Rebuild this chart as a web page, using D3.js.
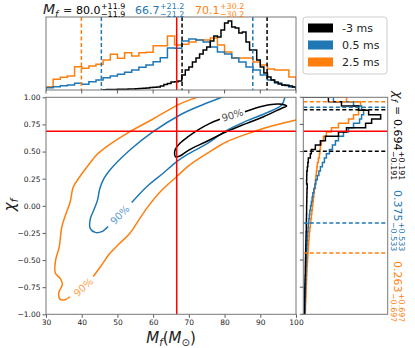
<!DOCTYPE html>
<html>
<head>
<meta charset="utf-8">
<script src="https://cdn.jsdelivr.net/npm/d3@7"></script>
<style>
  body { margin: 0; background: #fff; }
  text { font-family: "DejaVu Sans", sans-serif; }
</style>
</head>
<body>
<div id="chart"></div>
<script>
// Series names and colours
const seriesNames = ['-3 ms', '0.5 ms', '2.5 ms'];
const seriesColors = ['#000000', '#1f77b4', '#ff7f0e'];

// Final mass summaries (median, +err, -err)
const mfMedian = ['80.0', '66.7', '70.1'];
const mfErr = ['11.9', '21.2', '30.2'];
const mfLow = [68.1, 45.5, 39.9];
const mfHigh = [91.9, 87.9, 100.3];

// Final spin summaries
const chiMedian = ['0.694', '0.375', '0.263'];
const chiErr = ['0.191', '0.533', '0.697'];
const chiLow = [0.503, -0.158, -0.434];
const chiHigh = [0.885, 0.908, 0.960];

// Injected values (red lines)
const trueMf = 66.6;
const trueChi = 0.686;

// Mf histograms (relative density), black uses 1 Msun bins from 46, others 2 Msun bins from 30
const mfHistBlack = [0.3, 0.4, 0.5, 0.5, 0.7, 0.7, 0.8, 1, 1, 1.2, 1.5, 1.7, 2, 2.5, 2.7, 3, 4, 5.5, 6.5, 8,
  8.3, 9, 15, 20, 23, 28, 32, 36, 40, 43, 49, 54, 53, 60, 67, 69, 63, 62, 57, 58,
  48, 40, 40, 30, 23, 17, 13, 10, 8, 6, 5, 4.5, 4, 3];
const mfHistBlue = [2.3, 3.3, 4.3, 5, 6.7, 5.7, 8.3, 10, 12.3, 14, 15.7, 17.7, 20, 22.7, 25, 28.3, 32.3, 42,
  41.7, 49, 51, 50, 48, 43, 38, 36, 32, 28, 23, 20, 15, 10, 7, 5, 3];
const mfHistOrange = [3.3, 10.7, 12.7, 14, 23.3, 21.7, 24, 25.7, 30, 35.7, 31.7, 37.3, 34, 37.3, 37.7, 44.3, 44.3, 54,
  45, 45.7, 48, 50, 50, 52, 45, 38, 32, 32, 32, 28, 25, 21, 20, 20, 13];
const mfBins = [{ start: 46, width: 1 }, { start: 30, width: 2 }, { start: 30, width: 2 }];

// chi histograms, 0.04 bins from -1
const chiHistBlack = [1.2, 1.2, 1.3, 1.3, 1.5, 1.5, 1.6, 1.7, 1.8, 2.0,
  2.0, 2.1, 2.2, 2.3, 2.4, 2.5, 2.6, 2.7, 2.8, 3.0,
  3.0, 3.1, 3.2, 3.3, 3.3, 3.4, 3.5, 3.6, 3.7, 3.9,
  3.3, 3.4, 3.5, 4.0, 4.5, 5, 7, 8, 12, 17,
  22, 35, 43, 62, 68, 77, 65, 55, 38, 25];
const chiHistBlue = [1.7, 1.8, 1.9, 2.0, 2.0, 2.1, 2.2, 2.4, 2.5, 2.7,
  2.8, 3.0, 3.1, 3.2, 3.4, 3.6, 3.8, 4.0, 4.3, 4.7,
  5, 5.5, 6, 6.5, 7.2, 8, 8.8, 9.5, 10.5, 11.5,
  12.5, 14, 15.5, 17, 19, 21, 23, 26, 29, 32,
  35, 40, 45, 50, 56, 58, 60, 58, 50, 30];
const chiHistOrange = [2.0, 2.2, 2.3, 2.5, 2.7, 2.8, 3.0, 3.2, 3.4, 3.6,
  3.8, 4.0, 4.2, 4.5, 4.8, 5.0, 5.3, 5.7, 6.0, 6.5,
  7, 7.5, 8, 8.5, 9, 9.5, 10, 10.5, 11, 12,
  12, 12.5, 13, 13.5, 14, 15, 16, 16.5, 17, 18,
  20, 23, 28, 35, 45, 50, 55, 55, 57, 43];

// 90% contours as [Mf, chi] segments (broken where the label sits)
const contourBlack = [[
  [85.7, 0.867], [90.9, 0.92], [95.1, 0.938], [97.4, 0.92], [96.0, 0.899], [90.9, 0.821], [86.2, 0.76],
  [80.5, 0.683], [74.8, 0.59], [70.0, 0.514], [67.5, 0.459], [66.3, 0.45], [66.0, 0.48], [66.2, 0.52],
  [67.5, 0.576], [69.8, 0.637], [72.6, 0.70], [75.9, 0.76], [78.7, 0.797]
]];
const contourBlue = [[
  [47.4, -0.19], [45.6, -0.238], [43.8, -0.245], [42.4, -0.21], [42.4, -0.12], [43.5, -0.03], [44.4, 0.05],
  [45.1, 0.161], [46.2, 0.25], [47.9, 0.33], [53.5, 0.514], [60, 0.683], [67.5, 0.837], [73, 0.92],
  [79.2, 1.0], [83, 1.05]
], [
  [54, 0.03], [58.2, 0.176], [62.8, 0.30], [66.6, 0.407], [70, 0.48], [75, 0.57], [80.1, 0.686], [86, 0.78],
  [92, 0.86], [96, 0.93], [96.9, 1.0], [97.2, 1.05]
]];
const contourOrange = [[
  [36.7, -0.838], [35.3, -0.865], [33.9, -0.86], [33.6, -0.80], [34.6, -0.72], [34.0, -0.67], [32.6, -0.62],
  [32.7, -0.50], [33.7, -0.38], [34.4, -0.20], [35.3, -0.10], [36.8, 0.04], [37.6, 0.17], [39.5, 0.27],
  [42.0, 0.38], [44.2, 0.47], [47, 0.545], [53.5, 0.683], [60, 0.80], [67.5, 0.94], [72.2, 1.0], [76, 1.05]
], [
  [43.2, -0.653], [45.5, -0.55], [47.9, -0.438], [50.5, -0.35], [53.5, -0.253], [56, -0.13], [58.5, -0.01],
  [62, 0.13], [66.6, 0.27], [70, 0.37], [75, 0.48], [80.6, 0.59], [88.1, 0.683], [93.7, 0.74], [100, 0.79],
  [104, 0.82]
]];
// label anchor [Mf, chi, rotation]
const contourLabels = [[82.2, 0.836, -18], [50.7, -0.085, -45], [40.5, -0.75, -42]];
const labelColors = ['#555555', '#5b9bd0', '#ffa24a'];

const mfTicks = [30, 40, 50, 60, 70, 80, 90, 100];
const chiTicks = [-1, -0.75, -0.5, -0.25, 0, 0.25, 0.5, 0.75, 1];

// Layout
const W = 415, H = 348;
const main = { left: 46, right: 296, top: 97.3, bottom: 314.3 };
const topH = { top: 17, bottom: 90 };
const side = { left: 303.3, right: 387.7 };
const spine = '#777';

const svg = d3.select('#chart').append('svg')
  .attr('width', W).attr('height', H);

const x = d3.scaleLinear().domain([30, 100]).range([main.left, main.right]);
const y = d3.scaleLinear().domain([-1, 1]).range([main.bottom, main.top]);
const yTop = d3.scaleLinear().domain([0, 73]).range([topH.bottom, topH.top]);
const xSide = d3.scaleLinear().domain([0, 84]).range([side.left, side.right]);

const defs = svg.append('defs');
defs.append('clipPath').attr('id', 'clipMain').append('rect')
  .attr('x', main.left).attr('y', main.top)
  .attr('width', main.right - main.left).attr('height', main.bottom - main.top);
defs.append('clipPath').attr('id', 'clipTop').append('rect')
  .attr('x', main.left).attr('y', topH.top)
  .attr('width', main.right - main.left).attr('height', topH.bottom - topH.top);
defs.append('clipPath').attr('id', 'clipSide').append('rect')
  .attr('x', side.left).attr('y', main.top)
  .attr('width', side.right - side.left).attr('height', main.bottom - main.top);

// ---------- top histogram ----------
const gTop = svg.append('g').attr('clip-path', 'url(#clipTop)');
const mfHists = [mfHistBlack, mfHistBlue, mfHistOrange];

function stepPoints(start, width, values) {
  const pts = [[start, 0]];
  values.forEach((v, i) => {
    pts.push([start + i * width, v]);
    pts.push([start + (i + 1) * width, v]);
  });
  pts.push([start + values.length * width, 0]);
  return pts;
}

[2, 1, 0].forEach(i => {
  const pts = stepPoints(mfBins[i].start, mfBins[i].width, mfHists[i]);
  gTop.append('path')
    .attr('d', d3.line().x(d => x(d[0])).y(d => yTop(d[1]))(pts))
    .attr('fill', 'none').attr('stroke', seriesColors[i]).attr('stroke-width', 1.5);
});
[0, 1, 2].forEach(i => {
  [mfLow[i], mfHigh[i]].forEach(v => {
    gTop.append('line')
      .attr('x1', x(v)).attr('x2', x(v)).attr('y1', topH.top).attr('y2', topH.bottom)
      .attr('stroke', seriesColors[i]).attr('stroke-width', 1.5).attr('stroke-dasharray', '4,2.5');
  });
});
gTop.append('line')
  .attr('x1', x(trueMf)).attr('x2', x(trueMf)).attr('y1', topH.top).attr('y2', topH.bottom)
  .attr('stroke', 'red').attr('stroke-width', 1.5);

svg.append('rect')
  .attr('x', main.left).attr('y', topH.top)
  .attr('width', main.right - main.left).attr('height', topH.bottom - topH.top)
  .attr('fill', 'none').attr('stroke', spine).attr('stroke-width', 1);
svg.append('g').selectAll('line').data(mfTicks).join('line')
  .attr('x1', d => x(d)).attr('x2', d => x(d))
  .attr('y1', topH.bottom).attr('y2', topH.bottom + 3.5)
  .attr('stroke', '#333').attr('stroke-width', 0.8);

// ---------- side histogram ----------
const gSide = svg.append('g').attr('clip-path', 'url(#clipSide)');
const chiHists = [chiHistBlack, chiHistBlue, chiHistOrange];
[2, 1, 0].forEach(i => {
  const pts = stepPoints(-1, 0.04, chiHists[i]);
  gSide.append('path')
    .attr('d', d3.line().x(d => xSide(d[1])).y(d => y(d[0]))(pts))
    .attr('fill', 'none').attr('stroke', seriesColors[i]).attr('stroke-width', 1.5);
});
[0, 1, 2].forEach(i => {
  [chiLow[i], chiHigh[i]].forEach(v => {
    gSide.append('line')
      .attr('x1', side.left).attr('x2', side.right).attr('y1', y(v)).attr('y2', y(v))
      .attr('stroke', seriesColors[i]).attr('stroke-width', 1.5).attr('stroke-dasharray', '4,2.5');
  });
});
gSide.append('line')
  .attr('x1', side.left).attr('x2', side.right).attr('y1', y(trueChi)).attr('y2', y(trueChi))
  .attr('stroke', 'red').attr('stroke-width', 1.5);
svg.append('rect')
  .attr('x', side.left).attr('y', main.top)
  .attr('width', side.right - side.left).attr('height', main.bottom - main.top)
  .attr('fill', 'none').attr('stroke', spine).attr('stroke-width', 1);
svg.append('g').selectAll('line').data(chiTicks).join('line')
  .attr('x1', side.left - 3.5).attr('x2', side.left)
  .attr('y1', d => y(d)).attr('y2', d => y(d))
  .attr('stroke', '#333').attr('stroke-width', 0.8);

// ---------- main contour panel ----------
const gMain = svg.append('g').attr('clip-path', 'url(#clipMain)');
const contourLine = d3.line().x(d => x(d[0])).y(d => y(d[1])).curve(d3.curveCatmullRom);
const contours = [contourBlack, contourBlue, contourOrange];
[2, 1, 0].forEach(i => {
  contours[i].forEach(seg => {
    gMain.append('path').attr('d', contourLine(seg))
      .attr('fill', 'none').attr('stroke', seriesColors[i]).attr('stroke-width', 1.5);
  });
});
contourLabels.forEach((d, i) => {
  gMain.append('text')
    .attr('transform', `translate(${x(d[0])},${y(d[1])}) rotate(${d[2]})`)
    .attr('text-anchor', 'middle').attr('dominant-baseline', 'central')
    .attr('font-size', 10).attr('fill', labelColors[i]).text('90%');
});
gMain.append('line')
  .attr('x1', x(trueMf)).attr('x2', x(trueMf)).attr('y1', main.top).attr('y2', main.bottom)
  .attr('stroke', 'red').attr('stroke-width', 1.5);
gMain.append('line')
  .attr('x1', main.left).attr('x2', main.right).attr('y1', y(trueChi)).attr('y2', y(trueChi))
  .attr('stroke', 'red').attr('stroke-width', 1.5);

const xAxis = svg.append('g').attr('transform', `translate(0,${main.bottom})`)
  .call(d3.axisBottom(x).tickValues(mfTicks).tickSize(3.5).tickPadding(2).tickFormat(d3.format('d')));
const yAxis = svg.append('g').attr('transform', `translate(${main.left},0)`)
  .call(d3.axisLeft(y).tickValues(chiTicks).tickSize(3.5).tickPadding(2)
    .tickFormat(d => d3.format('.2f')(d).replace('-', '\u2212')));
[xAxis, yAxis].forEach(a => {
  a.select('.domain').remove();
  a.selectAll('text').attr('font-size', 7.5).attr('fill', '#222')
    .attr('font-family', '"DejaVu Sans", sans-serif');
  a.selectAll('line').attr('stroke', '#333').attr('stroke-width', 0.8);
});
svg.append('rect')
  .attr('x', main.left).attr('y', main.top)
  .attr('width', main.right - main.left).attr('height', main.bottom - main.top)
  .attr('fill', 'none').attr('stroke', spine).attr('stroke-width', 1);

// axis labels
const mathFont = '"Liberation Serif", serif';
const xl = svg.append('text').attr('x', 171).attr('y', 343).attr('text-anchor', 'middle')
  .attr('font-family', mathFont).attr('font-size', 15).attr('fill', '#222');
xl.append('tspan').attr('font-style', 'italic').text('M');
xl.append('tspan').attr('font-style', 'italic').attr('font-size', 10).attr('dy', 3).text('f');
xl.append('tspan').attr('dy', -3).text('(');
xl.append('tspan').attr('font-style', 'italic').text('M');
xl.append('tspan').attr('font-size', 10).attr('dy', 3).text('\u2299');
xl.append('tspan').attr('dy', -3).text(')');

const yl = svg.append('text').attr('transform', 'translate(15,205) rotate(-90)')
  .attr('text-anchor', 'middle').attr('font-family', mathFont).attr('font-size', 15).attr('fill', '#222');
yl.append('tspan').attr('font-style', 'italic').text('\u03c7');
yl.append('tspan').attr('font-style', 'italic').attr('font-size', 10).attr('dy', 3).text('f');

// value with stacked +/- errors
function valueWithErr(g, x0, y0, val, err, color, size) {
  const t = g.append('text').attr('x', x0).attr('y', y0).attr('font-size', size)
    .attr('fill', color).text(val);
  const w = t.node().getComputedTextLength();
  g.append('text').attr('x', x0 + w + 0.5).attr('y', y0 - size * 0.42)
    .attr('font-size', size * 0.72).attr('fill', color).text('+' + err);
  g.append('text').attr('x', x0 + w + 0.5).attr('y', y0 + size * 0.3)
    .attr('font-size', size * 0.72).attr('fill', color).text('\u2212' + err);
}

// title over top histogram
const gTitle = svg.append('g');
const tm = gTitle.append('text').attr('x', 43).attr('y', 14).attr('font-family', mathFont)
  .attr('font-size', 14).attr('fill', '#222');
tm.append('tspan').attr('font-style', 'italic').text('M');
tm.append('tspan').attr('font-style', 'italic').attr('font-size', 9.5).attr('dy', 3).text('f');
gTitle.append('text').attr('x', 63).attr('y', 14).attr('font-size', 11).attr('fill', '#222').text('=');
const titleX = [76, 135, 195];
[0, 1, 2].forEach(i => valueWithErr(gTitle, titleX[i], 14, mfMedian[i], mfErr[i], seriesColors[i], 11));

// rotated summary on the right
const sideY = [91, 190, 261];
[0, 1, 2].forEach(i => {
  const g = svg.append('g').attr('transform', `translate(394,${sideY[i]}) rotate(90)`);
  let start = 0;
  if (i === 0) {
    const c = g.append('text').attr('x', 0).attr('y', 0).attr('font-family', mathFont)
      .attr('font-size', 13).attr('fill', '#222');
    c.append('tspan').attr('font-style', 'italic').text('\u03c7');
    c.append('tspan').attr('font-style', 'italic').attr('font-size', 9).attr('dy', 3).text('f');
    g.append('text').attr('x', 15).attr('y', 0).attr('font-size', 11).attr('fill', '#222').text('=');
    start = 28;
  }
  valueWithErr(g, start, 0, chiMedian[i], chiErr[i], seriesColors[i], 11);
});

// legend
const lg = svg.append('g');
lg.append('rect').attr('x', 303).attr('y', 17).attr('width', 84).attr('height', 57).attr('rx', 3)
  .attr('fill', '#fff').attr('stroke', '#ccc').attr('stroke-width', 1);
const legendY = [28, 45, 62];
seriesNames.forEach((n, i) => {
  lg.append('rect').attr('x', 308).attr('y', legendY[i] - 4.5).attr('width', 25).attr('height', 9)
    .attr('fill', seriesColors[i]);
  lg.append('text').attr('x', 342).attr('y', legendY[i]).attr('dominant-baseline', 'central')
    .attr('font-size', 11).attr('fill', '#222').text(n);
});
</script>
</body>
</html>
